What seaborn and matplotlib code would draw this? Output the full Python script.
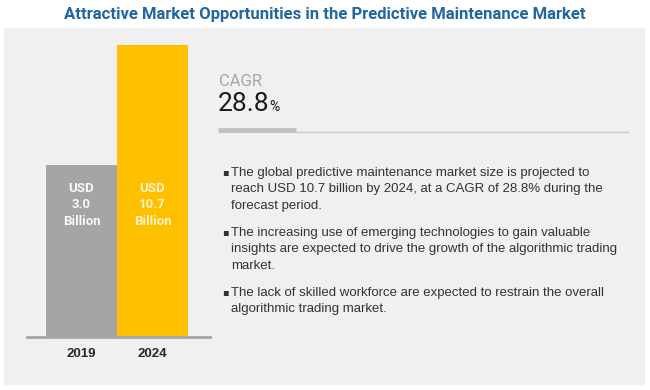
import matplotlib
matplotlib.use("Agg")
import matplotlib.pyplot as plt
import matplotlib.patches as mpatches
import matplotlib.transforms as mtransforms
import pandas as pd
import seaborn as sns

# data
years = ["2019", "2024"]
market_size = [3.0, 10.7]  # USD billion
bar_colors = ["#a5a5a5", "#ffc000"]
label_colors = ["#f7f7f7", "#fff2cc"]
cagr = "28.8"
title = "Attractive Market Opportunities in the Predictive Maintenance Market"
bullets = [
    "The global predictive maintenance market size is projected to\n"
    "reach USD 10.7 billion by 2024, at a CAGR of 28.8% during the\n"
    "forecast period.",
    "The increasing use of emerging technologies to gain valuable\n"
    "insights are expected to drive the growth of the algorithmic trading\n"
    "market.",
    "The lack of skilled workforce are expected to restrain the overall\n"
    "algorithmic trading market.",
]
bullet_tops = [173, 233, 293]

NARROW = ["Roboto", "DejaVu Sans"]
W, H = 650, 390


def fx(px):
    return px / W


def fy(py):
    return 1 - py / H


sns.set_theme(style="white")
plt.rcParams["font.family"] = ["Liberation Sans", "DejaVu Sans"]

fig = plt.figure(figsize=(6.5, 3.9), dpi=100)
fig.patch.set_facecolor("white")

# grey panel, kept behind the axes
fig.patches.append(mpatches.Rectangle((fx(4), fy(385)), fx(641), 357 / H,
                                      transform=fig.transFigure,
                                      facecolor="#f0f0f0", edgecolor="none", zorder=-5))

fig.text(0.5, fy(14), title, ha="center", va="center", fontsize=12,
         fontweight="bold", color="#1f66a3", family=NARROW)

# bar chart (log scale so both bars fit like the original)
df = pd.DataFrame({"year": years, "value": market_size})
ax = fig.add_axes([fx(27), fy(337), fx(183), 292 / H])
ax.set_facecolor("none")
sns.barplot(data=df, x="year", y="value", hue="year", palette=bar_colors,
            width=1.0, legend=False, ax=ax, saturation=1, linewidth=0)
ax.set_yscale("log")
ax.set_ylim(0.488, 10.7)
ax.set_xlim(-0.768, 1.81)
ax.set_xlabel("")
ax.set_ylabel("")
ax.set_yticks([])
ax.minorticks_off()
for s in ["top", "right", "left"]:
    ax.spines[s].set_visible(False)
ax.spines["bottom"].set_color("#a6a6a6")
ax.spines["bottom"].set_linewidth(2)
ax.tick_params(axis="x", length=0, pad=8, labelsize=9.5, labelcolor="#262626")
for lab in ax.get_xticklabels():
    lab.set_fontweight("bold")

trans = mtransforms.blended_transform_factory(ax.transData, ax.transAxes)
for i, v in enumerate(market_size):
    ax.text(i, (337 - 205) / 292, f"USD\n{v:.1f}\nBillion", transform=trans,
            ha="center", va="center", fontsize=9.5, fontweight="bold",
            color=label_colors[i], family=NARROW, linespacing=1.35)

# CAGR block
fig.text(fx(219), fy(81), "CAGR", ha="left", va="center", fontsize=12,
         color="#a6a6a6", family=["Roboto", "DejaVu Sans"])
t = fig.text(fx(218), fy(111), cagr, ha="left", va="baseline", fontsize=19,
             color="#1a1a1a", family=["Roboto", "DejaVu Sans"])
fig.canvas.draw()
bb = t.get_window_extent()
fig.text(bb.x1 / W - 0.001, fy(111), "%", ha="left", va="baseline", fontsize=10,
         color="#1a1a1a", family=["Roboto", "DejaVu Sans"])
fig.lines.append(plt.Line2D([fx(296), fx(628)], [fy(132), fy(132)],
                            transform=fig.transFigure, color="#c8c8c8", lw=1))
fig.lines.append(plt.Line2D([fx(218), fx(296)], [fy(130), fy(130)],
                            transform=fig.transFigure, color="#c0c0c0", lw=3.5,
                            solid_capstyle="butt"))

# bullet points
for top, txt in zip(bullet_tops, bullets):
    fig.text(fx(222), fy(top - 1), "\u25aa", ha="left", va="center", fontsize=7,
             color="#333333", family="DejaVu Sans")
    fig.text(fx(231), fy(top - 6), txt, ha="left", va="top", fontsize=9.5,
             color="#333333", linespacing=1.48)

fig.savefig("out.png", dpi=100, facecolor="white")
